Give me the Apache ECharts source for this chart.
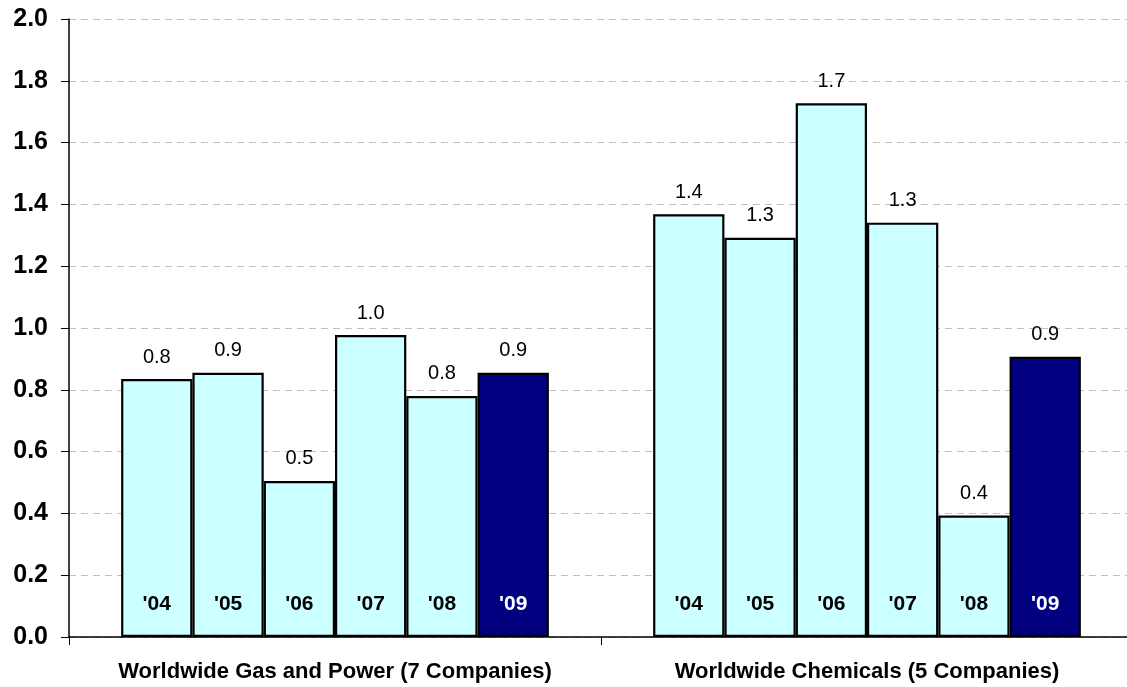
<!DOCTYPE html>
<html>
<head>
<meta charset="utf-8">
<title>Worldwide Gas and Power vs Chemicals</title>
<script src="https://cdn.jsdelivr.net/npm/echarts@6/dist/echarts.min.js"></script>
<style>
  html, body { margin: 0; padding: 0; background: #fff; }
  #chart { width: 1127px; height: 687px; }
</style>
</head>
<body>
<div id="chart"></div>
<script>
const groups = ['Worldwide Gas and Power (7 Companies)', 'Worldwide Chemicals (5 Companies)']
const years = ["'04", "'05", "'06", "'07", "'08", "'09"]
const gasPower = [0.835, 0.855, 0.505, 0.977, 0.78, 0.855]
const chemicals = [1.368, 1.292, 1.727, 1.341, 0.393, 0.907]

const lightFill = '#ccffff'
const darkFill = '#000080'

const chart = echarts.init(document.getElementById('chart'))

const series = []
years.forEach((yr, i) => {
  const vals = [gasPower[i], chemicals[i]]
  const last = i === years.length - 1
  // the bar itself, with the year written near its base
  series.push({
    name: yr,
    type: 'bar',
    stack: 's' + i,
    data: vals,
    itemStyle: { color: last ? darkFill : lightFill, borderColor: '#000', borderWidth: 2.2 },
    label: {
      show: true,
      position: 'insideBottom',
      distance: 22,
      formatter: yr,
      fontFamily: 'Liberation Sans, Arial, sans-serif',
      fontSize: 21,
      fontWeight: 'bold',
      color: last ? '#fff' : '#000'
    }
  })
  // zero-height cap stacked on top, carries the value label
  series.push({
    name: yr + ' value',
    type: 'bar',
    stack: 's' + i,
    data: [0, 0],
    itemStyle: { color: 'transparent', borderWidth: 0 },
    label: {
      show: true,
      position: 'top',
      distance: 12,
      formatter: p => vals[p.dataIndex].toFixed(1),
      fontFamily: 'Liberation Sans, Arial, sans-serif',
      fontSize: 20,
      color: '#000'
    }
  })
})

chart.setOption({
  animation: false,
  backgroundColor: '#fff',
  grid: { left: 69, top: 19, right: -6, bottom: 50, outerBoundsMode: 'none' },
  xAxis: {
    type: 'category',
    data: groups,
    axisLine: { lineStyle: { color: '#000', width: 1.5 } },
    axisTick: { show: true, length: 8, lineStyle: { color: '#000' } },
    axisLabel: {
      interval: 0,
      margin: 24,
      fontFamily: 'Liberation Sans, Arial, sans-serif',
      fontSize: 22,
      fontWeight: 'bold',
      color: '#000'
    }
  },
  yAxis: {
    type: 'value',
    min: 0,
    max: 2,
    interval: 0.2,
    axisLine: { show: true, lineStyle: { color: '#000', width: 1.5 } },
    axisTick: { show: true, length: 8, lineStyle: { color: '#000' } },
    axisLabel: {
      margin: 21,
      formatter: v => v.toFixed(1),
      fontFamily: 'Liberation Sans, Arial, sans-serif',
      fontSize: 25,
      fontWeight: 'bold',
      color: '#000'
    },
    splitLine: { show: true, lineStyle: { color: '#c0c0c0', type: [7, 5], width: 1 } }
  },
  series: series.map(s => Object.assign(s, { barGap: '0%', barCategoryGap: '19.6%' }))
})

window.addEventListener('resize', () => chart.resize())
</script>
</body>
</html>
